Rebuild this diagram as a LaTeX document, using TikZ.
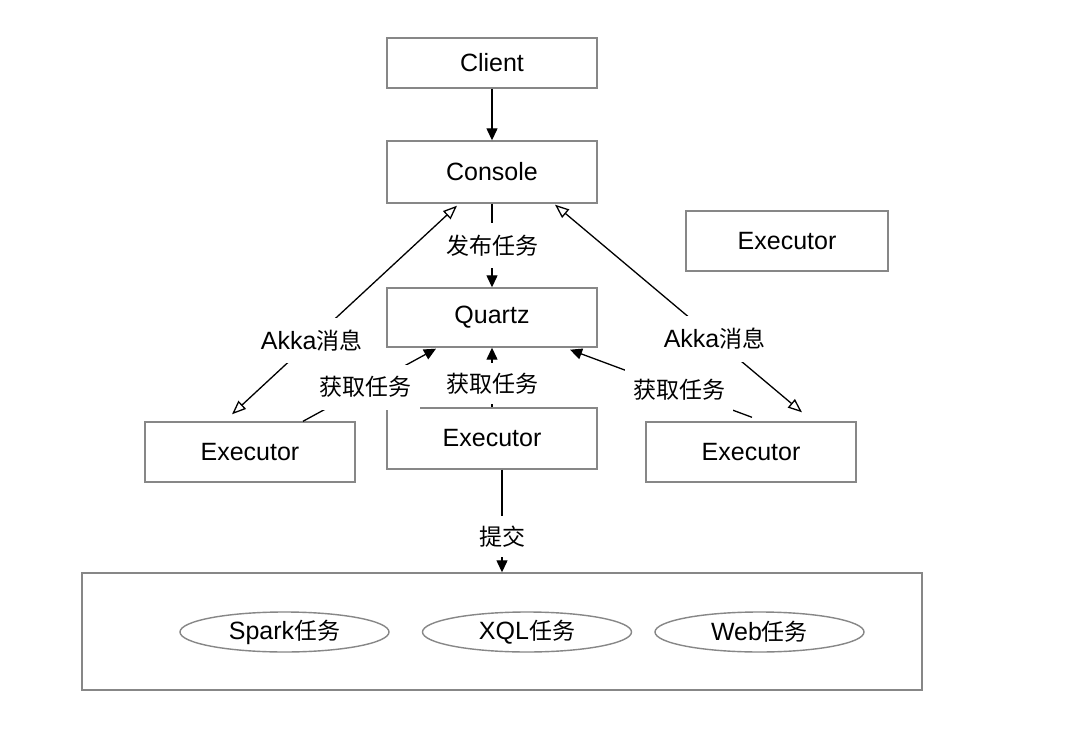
\documentclass[tikz,border=0pt]{standalone}
\usepackage{fontspec}
\setmainfont{Liberation Sans}
\newfontfamily\cjk[Scale=0.92]{Noto Sans CJK SC}
\usetikzlibrary{arrows.meta,shapes.geometric}
\newcommand\zh[1]{{\cjk #1}}
\definecolor{boxgray}{RGB}{135,135,135}
\begin{document}
\begin{tikzpicture}[x=1pt,y=-1pt,
  txt/.style={font=\fontsize{25}{29}\selectfont},
  box/.style={txt,draw=boxgray,line width=1.4pt,minimum width=210pt,inner sep=0pt},
  oval/.style={txt,ellipse,draw=boxgray,line width=1.4pt,minimum width=209pt,minimum height=40pt,inner sep=0pt},
  lab/.style={txt,fill=white,inner xsep=8pt,inner ysep=12pt},
  conn/.style={line width=1.3pt,black},
  solidtip/.style={conn,-{Triangle[length=12pt,width=11pt]}},
  opentip/.style={conn,{Triangle[open,length=14pt,width=11pt]}-{Triangle[open,length=14pt,width=11pt]}}
]
\useasboundingbox (0,0) rectangle (1092,738);
\fill[white] (0,0) rectangle (1092,738);

\node[box,minimum height=50pt] (client) at (492,63) {Client};
\node[box,minimum height=62pt] (console) at (492,172) {Console};
\node[box,minimum width=202pt,minimum height=60pt] (exTR) at (787,241) {Executor};
\node[box,minimum height=59pt] (quartz) at (492,317.5) {Quartz};
\node[box,minimum height=60pt] (exL) at (250,452) {Executor};
\node[box,minimum height=61pt] (exM) at (492,438.5) {Executor};
\node[box,minimum height=60pt] (exR) at (751,452) {Executor};
\node[box,minimum width=840pt,minimum height=117pt] (pool) at (502,631.5) {};
\node[oval] (spark) at (284.5,632) {Spark\zh{任务}};
\node[oval] (xql) at (527,632) {XQL\zh{任务}};
\node[oval] (web) at (759.5,632) {Web\zh{任务}};

\draw[solidtip] (client) -- (console);
\draw[solidtip] (console) -- node[lab,pos=0.5] {\zh{发布任务}} (quartz);
\draw[opentip] ([xshift=-18pt,yshift=7pt]exL.north) -- node[lab,pos=0.354] {Akka\zh{消息}} ([xshift=-35pt,yshift=-2pt]console.south);
\draw[opentip] ([xshift=63pt,yshift=-1pt]console.south) -- node[lab,pos=0.646] {Akka\zh{消息}} ([xshift=51pt,yshift=9pt]exR.north);
\draw[solidtip] ([xshift=53pt]exL.north) -- node[lab,pos=0.47] {\zh{获取任务}} ([xshift=-56pt,yshift=-1pt]quartz.south);
\draw[solidtip] (exM) -- node[lab,pos=0.4,inner ysep=10pt] {\zh{获取任务}} (quartz);
\draw[solidtip] ([xshift=1pt,yshift=4pt]exR.north) -- node[lab,pos=0.4] {\zh{获取任务}} ([xshift=78pt,yshift=-2pt]quartz.south);
\draw[solidtip] ([xshift=10pt]exM.south) -- node[lab,pos=0.65,inner ysep=10pt] {\zh{提交}} ([xshift=10pt]exM.south |- pool.north);
\end{tikzpicture}
\end{document}
